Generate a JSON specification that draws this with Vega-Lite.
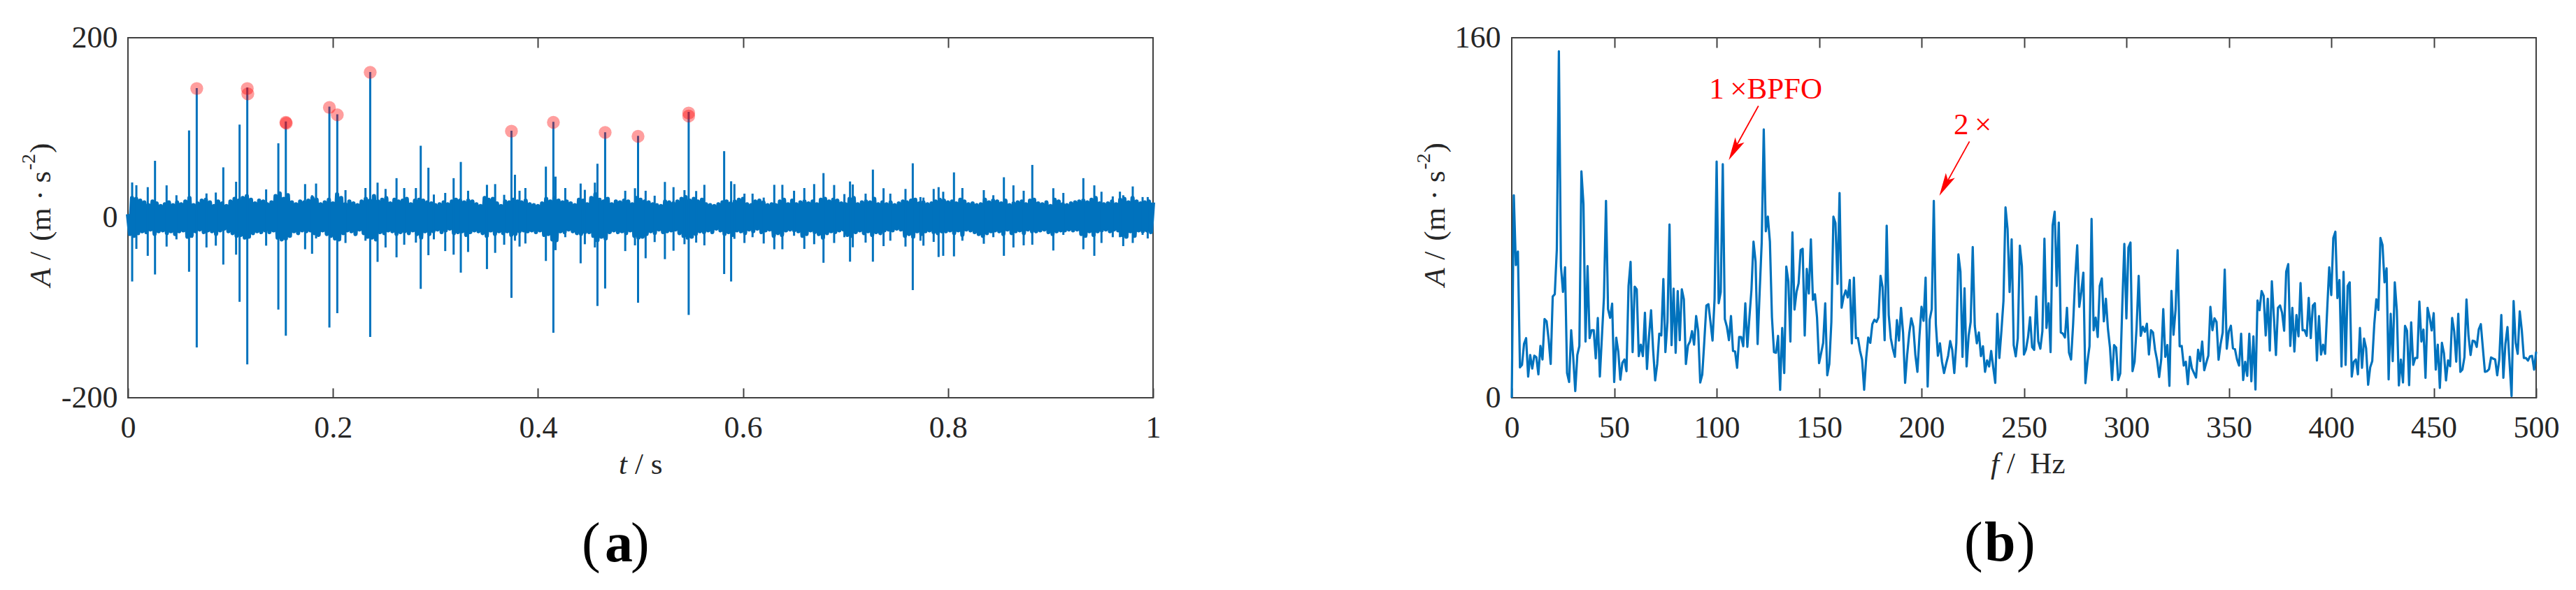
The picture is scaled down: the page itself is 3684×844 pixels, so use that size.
{
  "$schema": "https://vega.github.io/schema/vega-lite/v6.json",
  "background": "white",
  "padding": {"left": 27, "top": 31, "right": 0, "bottom": 0},
  "spacing": 361,
  "datasets": {
    "noise": [
{"t":0.000,"a":4},{"t":0.002,"a":-18},{"t":0.004,"a":22},{"t":0.006,"a":-20},{"t":0.008,"a":21},{"t":0.010,"a":-17},{"t":0.012,"a":19},{"t":0.014,"a":-15},{"t":0.016,"a":17},{"t":0.018,"a":-16},{"t":0.020,"a":14},{"t":0.022,"a":-13},{"t":0.024,"a":18},{"t":0.026,"a":-18},{"t":0.028,"a":16},{"t":0.030,"a":-15},{"t":0.032,"a":13},{"t":0.034,"a":-14},{"t":0.036,"a":15},{"t":0.038,"a":-17},{"t":0.040,"a":17},{"t":0.042,"a":-15},{"t":0.044,"a":14},{"t":0.046,"a":-18},{"t":0.048,"a":17},{"t":0.050,"a":-15},{"t":0.052,"a":15},{"t":0.054,"a":-14},{"t":0.056,"a":18},{"t":0.058,"a":-21},{"t":0.060,"a":22},{"t":0.062,"a":-20},{"t":0.064,"a":14},{"t":0.066,"a":-15},{"t":0.068,"a":16},{"t":0.070,"a":-13},{"t":0.072,"a":19},{"t":0.074,"a":-16},{"t":0.076,"a":20},{"t":0.078,"a":-14},{"t":0.080,"a":17},{"t":0.082,"a":-15},{"t":0.084,"a":13},{"t":0.086,"a":-18},{"t":0.088,"a":18},{"t":0.090,"a":-14},{"t":0.092,"a":16},{"t":0.094,"a":-12},{"t":0.096,"a":13},{"t":0.098,"a":-15},{"t":0.100,"a":18},{"t":0.102,"a":-17},{"t":0.104,"a":21},{"t":0.106,"a":-20},{"t":0.108,"a":19},{"t":0.110,"a":-19},{"t":0.112,"a":22},{"t":0.114,"a":-22},{"t":0.116,"a":24},{"t":0.118,"a":-21},{"t":0.120,"a":20},{"t":0.122,"a":-17},{"t":0.124,"a":16},{"t":0.126,"a":-15},{"t":0.128,"a":19},{"t":0.130,"a":-16},{"t":0.132,"a":18},{"t":0.134,"a":-14},{"t":0.136,"a":15},{"t":0.138,"a":-16},{"t":0.140,"a":17},{"t":0.142,"a":-14},{"t":0.144,"a":24},{"t":0.146,"a":-22},{"t":0.148,"a":27},{"t":0.150,"a":-24},{"t":0.152,"a":21},{"t":0.154,"a":-23},{"t":0.156,"a":25},{"t":0.158,"a":-20},{"t":0.160,"a":17},{"t":0.162,"a":-15},{"t":0.164,"a":15},{"t":0.166,"a":-17},{"t":0.168,"a":18},{"t":0.170,"a":-14},{"t":0.172,"a":17},{"t":0.174,"a":-15},{"t":0.176,"a":19},{"t":0.178,"a":-14},{"t":0.180,"a":22},{"t":0.182,"a":-17},{"t":0.184,"a":20},{"t":0.186,"a":-19},{"t":0.188,"a":15},{"t":0.190,"a":-14},{"t":0.192,"a":17},{"t":0.194,"a":-18},{"t":0.196,"a":20},{"t":0.198,"a":-20},{"t":0.200,"a":16},{"t":0.202,"a":-23},{"t":0.204,"a":26},{"t":0.206,"a":-24},{"t":0.208,"a":22},{"t":0.210,"a":-17},{"t":0.212,"a":15},{"t":0.214,"a":-14},{"t":0.216,"a":18},{"t":0.218,"a":-15},{"t":0.220,"a":16},{"t":0.222,"a":-18},{"t":0.224,"a":14},{"t":0.226,"a":-13},{"t":0.228,"a":18},{"t":0.230,"a":-17},{"t":0.232,"a":21},{"t":0.234,"a":-21},{"t":0.236,"a":19},{"t":0.238,"a":-22},{"t":0.240,"a":24},{"t":0.242,"a":-24},{"t":0.244,"a":18},{"t":0.246,"a":-16},{"t":0.248,"a":20},{"t":0.250,"a":-17},{"t":0.252,"a":22},{"t":0.254,"a":-14},{"t":0.256,"a":16},{"t":0.258,"a":-15},{"t":0.260,"a":20},{"t":0.262,"a":-18},{"t":0.264,"a":18},{"t":0.266,"a":-16},{"t":0.268,"a":19},{"t":0.270,"a":-15},{"t":0.272,"a":21},{"t":0.274,"a":-17},{"t":0.276,"a":15},{"t":0.278,"a":-14},{"t":0.280,"a":19},{"t":0.282,"a":-18},{"t":0.284,"a":20},{"t":0.286,"a":-22},{"t":0.288,"a":19},{"t":0.290,"a":-15},{"t":0.292,"a":17},{"t":0.294,"a":-18},{"t":0.296,"a":16},{"t":0.298,"a":-15},{"t":0.300,"a":14},{"t":0.302,"a":-13},{"t":0.304,"a":15},{"t":0.306,"a":-16},{"t":0.308,"a":17},{"t":0.310,"a":-14},{"t":0.312,"a":15},{"t":0.314,"a":-12},{"t":0.316,"a":18},{"t":0.318,"a":-17},{"t":0.320,"a":20},{"t":0.322,"a":-16},{"t":0.324,"a":19},{"t":0.326,"a":-15},{"t":0.328,"a":17},{"t":0.330,"a":-19},{"t":0.332,"a":19},{"t":0.334,"a":-16},{"t":0.336,"a":18},{"t":0.338,"a":-14},{"t":0.340,"a":15},{"t":0.342,"a":-15},{"t":0.344,"a":13},{"t":0.346,"a":-17},{"t":0.348,"a":22},{"t":0.350,"a":-20},{"t":0.352,"a":20},{"t":0.354,"a":-14},{"t":0.356,"a":21},{"t":0.358,"a":-18},{"t":0.360,"a":16},{"t":0.362,"a":-15},{"t":0.364,"a":13},{"t":0.366,"a":-17},{"t":0.368,"a":18},{"t":0.370,"a":-15},{"t":0.372,"a":17},{"t":0.374,"a":-19},{"t":0.376,"a":20},{"t":0.378,"a":-18},{"t":0.380,"a":18},{"t":0.382,"a":-15},{"t":0.384,"a":17},{"t":0.386,"a":-14},{"t":0.388,"a":19},{"t":0.390,"a":-15},{"t":0.392,"a":15},{"t":0.394,"a":-14},{"t":0.396,"a":14},{"t":0.398,"a":-16},{"t":0.400,"a":13},{"t":0.402,"a":-14},{"t":0.404,"a":16},{"t":0.406,"a":-19},{"t":0.408,"a":21},{"t":0.410,"a":-18},{"t":0.412,"a":18},{"t":0.414,"a":-24},{"t":0.416,"a":22},{"t":0.418,"a":-25},{"t":0.420,"a":19},{"t":0.422,"a":-15},{"t":0.424,"a":17},{"t":0.426,"a":-16},{"t":0.428,"a":18},{"t":0.430,"a":-13},{"t":0.432,"a":16},{"t":0.434,"a":-15},{"t":0.436,"a":14},{"t":0.438,"a":-17},{"t":0.440,"a":20},{"t":0.442,"a":-18},{"t":0.444,"a":19},{"t":0.446,"a":-16},{"t":0.448,"a":15},{"t":0.450,"a":-16},{"t":0.452,"a":22},{"t":0.454,"a":-20},{"t":0.456,"a":26},{"t":0.458,"a":-25},{"t":0.460,"a":20},{"t":0.462,"a":-21},{"t":0.464,"a":18},{"t":0.466,"a":-23},{"t":0.468,"a":21},{"t":0.470,"a":-16},{"t":0.472,"a":15},{"t":0.474,"a":-14},{"t":0.476,"a":18},{"t":0.478,"a":-16},{"t":0.480,"a":17},{"t":0.482,"a":-15},{"t":0.484,"a":19},{"t":0.486,"a":-17},{"t":0.488,"a":18},{"t":0.490,"a":-14},{"t":0.492,"a":15},{"t":0.494,"a":-20},{"t":0.496,"a":22},{"t":0.498,"a":-22},{"t":0.500,"a":20},{"t":0.502,"a":-21},{"t":0.504,"a":18},{"t":0.506,"a":-18},{"t":0.508,"a":17},{"t":0.510,"a":-15},{"t":0.512,"a":15},{"t":0.514,"a":-17},{"t":0.516,"a":14},{"t":0.518,"a":-13},{"t":0.520,"a":13},{"t":0.522,"a":-16},{"t":0.524,"a":18},{"t":0.526,"a":-15},{"t":0.528,"a":17},{"t":0.530,"a":-14},{"t":0.532,"a":16},{"t":0.534,"a":-13},{"t":0.536,"a":18},{"t":0.538,"a":-17},{"t":0.540,"a":21},{"t":0.542,"a":-20},{"t":0.544,"a":23},{"t":0.546,"a":-22},{"t":0.548,"a":19},{"t":0.550,"a":-21},{"t":0.552,"a":21},{"t":0.554,"a":-18},{"t":0.556,"a":18},{"t":0.558,"a":-15},{"t":0.560,"a":20},{"t":0.562,"a":-16},{"t":0.564,"a":15},{"t":0.566,"a":-14},{"t":0.568,"a":14},{"t":0.570,"a":-16},{"t":0.572,"a":13},{"t":0.574,"a":-12},{"t":0.576,"a":15},{"t":0.578,"a":-14},{"t":0.580,"a":17},{"t":0.582,"a":-18},{"t":0.584,"a":18},{"t":0.586,"a":-16},{"t":0.588,"a":16},{"t":0.590,"a":-19},{"t":0.592,"a":18},{"t":0.594,"a":-14},{"t":0.596,"a":20},{"t":0.598,"a":-15},{"t":0.600,"a":21},{"t":0.602,"a":-17},{"t":0.604,"a":15},{"t":0.606,"a":-13},{"t":0.608,"a":14},{"t":0.610,"a":-15},{"t":0.612,"a":18},{"t":0.614,"a":-12},{"t":0.616,"a":19},{"t":0.618,"a":-16},{"t":0.620,"a":17},{"t":0.622,"a":-14},{"t":0.624,"a":14},{"t":0.626,"a":-13},{"t":0.628,"a":15},{"t":0.630,"a":-20},{"t":0.632,"a":14},{"t":0.634,"a":-17},{"t":0.636,"a":18},{"t":0.638,"a":-19},{"t":0.640,"a":20},{"t":0.642,"a":-14},{"t":0.644,"a":15},{"t":0.646,"a":-13},{"t":0.648,"a":19},{"t":0.650,"a":-14},{"t":0.652,"a":15},{"t":0.654,"a":-15},{"t":0.656,"a":17},{"t":0.658,"a":-20},{"t":0.660,"a":18},{"t":0.662,"a":-18},{"t":0.664,"a":16},{"t":0.666,"a":-14},{"t":0.668,"a":18},{"t":0.670,"a":-16},{"t":0.672,"a":15},{"t":0.674,"a":-18},{"t":0.676,"a":20},{"t":0.678,"a":-22},{"t":0.680,"a":21},{"t":0.682,"a":-17},{"t":0.684,"a":18},{"t":0.686,"a":-15},{"t":0.688,"a":20},{"t":0.690,"a":-16},{"t":0.692,"a":19},{"t":0.694,"a":-14},{"t":0.696,"a":16},{"t":0.698,"a":-13},{"t":0.700,"a":15},{"t":0.702,"a":-19},{"t":0.704,"a":21},{"t":0.706,"a":-20},{"t":0.708,"a":22},{"t":0.710,"a":-16},{"t":0.712,"a":15},{"t":0.714,"a":-14},{"t":0.716,"a":17},{"t":0.718,"a":-17},{"t":0.720,"a":18},{"t":0.722,"a":-15},{"t":0.724,"a":17},{"t":0.726,"a":-19},{"t":0.728,"a":21},{"t":0.730,"a":-16},{"t":0.732,"a":15},{"t":0.734,"a":-17},{"t":0.736,"a":17},{"t":0.738,"a":-14},{"t":0.740,"a":15},{"t":0.742,"a":-13},{"t":0.744,"a":17},{"t":0.746,"a":-14},{"t":0.748,"a":14},{"t":0.750,"a":-12},{"t":0.752,"a":16},{"t":0.754,"a":-13},{"t":0.756,"a":18},{"t":0.758,"a":-20},{"t":0.760,"a":17},{"t":0.762,"a":-18},{"t":0.764,"a":19},{"t":0.766,"a":-21},{"t":0.768,"a":20},{"t":0.770,"a":-15},{"t":0.772,"a":16},{"t":0.774,"a":-18},{"t":0.776,"a":17},{"t":0.778,"a":-15},{"t":0.780,"a":15},{"t":0.782,"a":-14},{"t":0.784,"a":16},{"t":0.786,"a":-16},{"t":0.788,"a":18},{"t":0.790,"a":-17},{"t":0.792,"a":20},{"t":0.794,"a":-15},{"t":0.796,"a":19},{"t":0.798,"a":-15},{"t":0.800,"a":17},{"t":0.802,"a":-14},{"t":0.804,"a":18},{"t":0.806,"a":-17},{"t":0.808,"a":16},{"t":0.810,"a":-14},{"t":0.812,"a":20},{"t":0.814,"a":-19},{"t":0.816,"a":18},{"t":0.818,"a":-13},{"t":0.820,"a":15},{"t":0.822,"a":-14},{"t":0.824,"a":16},{"t":0.826,"a":-16},{"t":0.828,"a":14},{"t":0.830,"a":-18},{"t":0.832,"a":15},{"t":0.834,"a":-20},{"t":0.836,"a":20},{"t":0.838,"a":-17},{"t":0.840,"a":17},{"t":0.842,"a":-15},{"t":0.844,"a":19},{"t":0.846,"a":-14},{"t":0.848,"a":18},{"t":0.850,"a":-15},{"t":0.852,"a":16},{"t":0.854,"a":-18},{"t":0.856,"a":19},{"t":0.858,"a":-13},{"t":0.860,"a":14},{"t":0.862,"a":-17},{"t":0.864,"a":16},{"t":0.866,"a":-15},{"t":0.868,"a":17},{"t":0.870,"a":-14},{"t":0.872,"a":18},{"t":0.874,"a":-17},{"t":0.876,"a":15},{"t":0.878,"a":-13},{"t":0.880,"a":19},{"t":0.882,"a":-15},{"t":0.884,"a":20},{"t":0.886,"a":-15},{"t":0.888,"a":16},{"t":0.890,"a":-14},{"t":0.892,"a":15},{"t":0.894,"a":-13},{"t":0.896,"a":17},{"t":0.898,"a":-16},{"t":0.900,"a":13},{"t":0.902,"a":-18},{"t":0.904,"a":20},{"t":0.906,"a":-15},{"t":0.908,"a":18},{"t":0.910,"a":-14},{"t":0.912,"a":15},{"t":0.914,"a":-14},{"t":0.916,"a":14},{"t":0.918,"a":-13},{"t":0.920,"a":16},{"t":0.922,"a":-14},{"t":0.924,"a":17},{"t":0.926,"a":-13},{"t":0.928,"a":18},{"t":0.930,"a":-18},{"t":0.932,"a":19},{"t":0.934,"a":-20},{"t":0.936,"a":17},{"t":0.938,"a":-15},{"t":0.940,"a":20},{"t":0.942,"a":-19},{"t":0.944,"a":22},{"t":0.946,"a":-15},{"t":0.948,"a":16},{"t":0.950,"a":-14},{"t":0.952,"a":15},{"t":0.954,"a":-13},{"t":0.956,"a":16},{"t":0.958,"a":-15},{"t":0.960,"a":18},{"t":0.962,"a":-13},{"t":0.964,"a":15},{"t":0.966,"a":-14},{"t":0.968,"a":20},{"t":0.970,"a":-19},{"t":0.972,"a":21},{"t":0.974,"a":-21},{"t":0.976,"a":17},{"t":0.978,"a":-15},{"t":0.980,"a":22},{"t":0.982,"a":-20},{"t":0.984,"a":18},{"t":0.986,"a":-14},{"t":0.988,"a":16},{"t":0.990,"a":-15},{"t":0.992,"a":17},{"t":0.994,"a":-14},{"t":0.996,"a":18},{"t":0.998,"a":-16},{"t":1.000,"a":17}
    ],
    "spikes": [
{"t":0.0041,"a":39.2,"lo":-70.8},{"t":0.0082,"a":36.1,"lo":-34.6},{"t":0.0193,"a":34,"lo":-42.3},{"t":0.0264,"a":63.3,"lo":-63},{"t":0.0377,"a":36,"lo":-32},{"t":0.0473,"a":25,"lo":-24},{"t":0.0596,"a":97,"lo":-60},{"t":0.0671,"a":144,"lo":-144},{"t":0.0766,"a":27,"lo":-33},{"t":0.0857,"a":28,"lo":-31},{"t":0.093,"a":56,"lo":-52},{"t":0.1055,"a":40,"lo":-41},{"t":0.1089,"a":103.5,"lo":-93.4},{"t":0.1164,"a":144.6,"lo":-163},{"t":0.1348,"a":31.5,"lo":-31},{"t":0.1467,"a":82.7,"lo":-102},{"t":0.154,"a":107,"lo":-131},{"t":0.1728,"a":37.4,"lo":-35},{"t":0.1796,"a":25,"lo":-40},{"t":0.1835,"a":38,"lo":-23},{"t":0.1965,"a":123.4,"lo":-122},{"t":0.2042,"a":115,"lo":-106},{"t":0.2122,"a":30.7,"lo":-28},{"t":0.2317,"a":33,"lo":-25.5},{"t":0.2363,"a":162,"lo":-132.5},{"t":0.2435,"a":39,"lo":-49},
{"t":0.2513,"a":32,"lo":-33},{"t":0.262,"a":44,"lo":-44},{"t":0.2695,"a":33,"lo":-30},{"t":0.2809,"a":33,"lo":-27.6},{"t":0.2856,"a":80,"lo":-79},{"t":0.2931,"a":55.6,"lo":-41.6},{"t":0.2984,"a":25.8,"lo":-24},{"t":0.3095,"a":27.6,"lo":-37},{"t":0.3177,"a":44,"lo":-41},{"t":0.3247,"a":62,"lo":-61},{"t":0.3318,"a":30,"lo":-38},{"t":0.3502,"a":36.6,"lo":-57},{"t":0.3582,"a":37.4,"lo":-39},{"t":0.367,"a":25.5,"lo":-30},{"t":0.3741,"a":96.7,"lo":-89},{"t":0.3775,"a":47.8,"lo":-25.5},{"t":0.382,"a":30,"lo":-32},{"t":0.3877,"a":33,"lo":-28.6},{"t":0.4077,"a":56.8,"lo":-48},{"t":0.415,"a":106.6,"lo":-127.8},{"t":0.4171,"a":45.7,"lo":-36},{"t":0.4266,"a":33,"lo":-21.6},{"t":0.4416,"a":38,"lo":-50.6},{"t":0.4457,"a":31,"lo":-29.4},{"t":0.4555,"a":39,"lo":-33},{"t":0.458,"a":60,"lo":-98},{"t":0.4655,"a":95,"lo":-78.6},{"t":0.4851,"a":30,"lo":-37},{"t":0.4946,"a":32.8,"lo":-30.7},{"t":0.4976,"a":91,"lo":-94.4},
{"t":0.505,"a":30,"lo":-45},{"t":0.5138,"a":24.5,"lo":-27},{"t":0.5238,"a":39.8,"lo":-46},{"t":0.5322,"a":34,"lo":-36.6},{"t":0.5429,"a":30.7,"lo":-29.4},{"t":0.547,"a":117.7,"lo":-108},{"t":0.5543,"a":29.7,"lo":-27.6},{"t":0.5623,"a":36.6,"lo":-30.7},{"t":0.5816,"a":74,"lo":-62.5},{"t":0.5884,"a":40.5,"lo":-70.8},{"t":0.5916,"a":37.4,"lo":-23.4},{"t":0.6014,"a":26.8,"lo":-28},{"t":0.6093,"a":26.8,"lo":-21.6},{"t":0.6202,"a":22.4,"lo":-28.6},{"t":0.6305,"a":36.6,"lo":-35},{"t":0.6384,"a":36.6,"lo":-35},{"t":0.6498,"a":30,"lo":-20},{"t":0.6598,"a":33,"lo":-34.6},{"t":0.6694,"a":37.4,"lo":-29.4},{"t":0.6785,"a":49.6,"lo":-50},{"t":0.6889,"a":36.4,"lo":-28},{"t":0.6989,"a":26.3,"lo":-21.6},{"t":0.7044,"a":40.3,"lo":-48.8},{"t":0.7071,"a":37,"lo":-32.8},{"t":0.7196,"a":26.8,"lo":-27.6},{"t":0.7267,"a":53.5,"lo":-48.8},{"t":0.7371,"a":32.8,"lo":-31.5},{"t":0.7437,"a":26.8,"lo":-25.5},
{"t":0.7585,"a":32,"lo":-32},{"t":0.7656,"a":60.5,"lo":-80.4},{"t":0.7731,"a":23,"lo":-25.5},{"t":0.776,"a":22.4,"lo":-31},{"t":0.786,"a":32,"lo":-26.8},{"t":0.7908,"a":34,"lo":-43.6},{"t":0.7953,"a":28.9,"lo":-42.3},{"t":0.8058,"a":50.4,"lo":-42.9},{"t":0.814,"a":33,"lo":-25.5},{"t":0.8349,"a":30.7,"lo":-28.9},{"t":0.8442,"a":25,"lo":-21.6},{"t":0.8545,"a":45,"lo":-42.3},{"t":0.8638,"a":36,"lo":-33},{"t":0.8738,"a":30,"lo":-30.7},{"t":0.8822,"a":58.7,"lo":-30},{"t":0.9027,"a":32.8,"lo":-36.4},{"t":0.9125,"a":27.6,"lo":-19},{"t":0.932,"a":44,"lo":-35},{"t":0.9427,"a":36,"lo":-42.3},{"t":0.9497,"a":28.9,"lo":-28},{"t":0.9607,"a":23.7,"lo":-21.6},{"t":0.9677,"a":29,"lo":-21.6},{"t":0.9709,"a":25,"lo":-31.5},{"t":0.9802,"a":34.8,"lo":-28},{"t":0.9898,"a":23,"lo":-19},{"t":0.9948,"a":23,"lo":-23}
    ],
    "picked": [
{"t":0.0671,"a":143.6},{"t":0.1164,"a":143.6},{"t":0.1169,"a":137.7},{"t":0.154,"a":106},{"t":0.1544,"a":105},{"t":0.1965,"a":122.6},{"t":0.2042,"a":114.3},{"t":0.2363,"a":161.5},{"t":0.3741,"a":96.2},{"t":0.415,"a":106},{"t":0.4655,"a":94.7},{"t":0.4976,"a":90.5},{"t":0.547,"a":116.4},{"t":0.547,"a":113}
    ],
    "spectrum": [
{"t":0,"a":0},{"t":1,"a":90},{"t":2,"a":59},{"t":3,"a":65},{"t":4,"a":13.5},{"t":5,"a":14.6},{"t":6,"a":24},{"t":7,"a":26.5},{"t":8,"a":9.4},{"t":9,"a":19},{"t":10,"a":13},{"t":11,"a":18.7},{"t":12,"a":18},{"t":13,"a":10.4},{"t":14,"a":23},{"t":15,"a":17},{"t":16,"a":35},{"t":17,"a":34},{"t":18,"a":26},{"t":19,"a":15},{"t":20,"a":45},{"t":21,"a":46},{"t":22,"a":66},{"t":23,"a":154},{"t":24,"a":58.5},{"t":25,"a":47},{"t":26,"a":58},{"t":27,"a":11},{"t":28,"a":7},{"t":29,"a":30},{"t":30,"a":18},{"t":31,"a":3},{"t":32,"a":19},{"t":33,"a":23},{"t":34,"a":100.6},{"t":35,"a":86},{"t":36,"a":25},{"t":37,"a":58.5},{"t":38,"a":26.5},{"t":39,"a":30},{"t":40,"a":30},{"t":41,"a":17.5},{"t":42,"a":35.5},{"t":43,"a":9.4},{"t":44,"a":27},{"t":45,"a":44.6},{"t":46,"a":87.5},{"t":47,"a":39.4},{"t":48,"a":35.5},{"t":49,"a":41.8},{"t":50,"a":7},{"t":51,"a":26.7},{"t":52,"a":20.5},{"t":53,"a":8},{"t":54,"a":15.6},{"t":55,"a":17},{"t":56,"a":11.8},{"t":57,"a":49.7},{"t":58,"a":60.4},{"t":59,"a":20.3},{"t":60,"a":49.4},{"t":61,"a":48.2},{"t":62,"a":18.5},{"t":63,"a":23.6},{"t":64,"a":18.5},{"t":65,"a":37.8},{"t":66,"a":12.8},{"t":67,"a":27.5},{"t":68,"a":38.9},{"t":69,"a":21.3},{"t":70,"a":7.7},{"t":71,"a":15},{"t":72,"a":28.5},{"t":73,"a":27.7},{"t":74,"a":52.8},{"t":75,"a":20.3},{"t":76,"a":33.7},{"t":77,"a":77},{"t":78,"a":23.4},{"t":79,"a":48.5},{"t":80,"a":20},{"t":81,"a":47.4},{"t":82,"a":25.6},{"t":83,"a":48.2},{"t":84,"a":43.8},{"t":85,"a":15},{"t":86,"a":23.2},{"t":87,"a":25},{"t":88,"a":29.6},{"t":89,"a":23.6},{"t":90,"a":36.3},{"t":91,"a":29.6},{"t":92,"a":6.8},{"t":93,"a":10.4},{"t":94,"a":25.4},{"t":95,"a":41},{"t":96,"a":41.6},{"t":97,"a":33.7},{"t":98,"a":25.4},{"t":99,"a":44},{"t":100,"a":105},{"t":101,"a":42},{"t":102,"a":47},{"t":103,"a":103.8},{"t":104,"a":35},{"t":105,"a":31.6},{"t":106,"a":25.6},{"t":107,"a":36.3},{"t":108,"a":20.8},{"t":109,"a":20.6},{"t":110,"a":13.3},{"t":111,"a":27},{"t":112,"a":27},{"t":113,"a":22.9},{"t":114,"a":42},{"t":115,"a":22.6},{"t":116,"a":35.8},{"t":117,"a":48},{"t":118,"a":69.4},{"t":119,"a":60.6},{"t":120,"a":23.9},{"t":121,"a":47},{"t":122,"a":69},{"t":123,"a":119.3},{"t":124,"a":74},{"t":125,"a":80.5},{"t":126,"a":69.4},{"t":127,"a":35.8},{"t":128,"a":20.3},{"t":129,"a":20},{"t":130,"a":27.5},{"t":131,"a":3.5},{"t":132,"a":31},{"t":133,"a":11},{"t":134,"a":58.3},{"t":135,"a":51.8},{"t":136,"a":25},{"t":137,"a":73.5},{"t":138,"a":39.2},{"t":139,"a":47},{"t":140,"a":50.8},{"t":141,"a":65.6},{"t":142,"a":66.2},{"t":143,"a":27.7},{"t":144,"a":57.3},{"t":145,"a":46.3},{"t":146,"a":70.4},{"t":147,"a":43.5},{"t":148,"a":46},{"t":149,"a":35.8},{"t":150,"a":15.4},{"t":151,"a":19.8},{"t":152,"a":24.4},{"t":153,"a":42},{"t":154,"a":10},{"t":155,"a":15},{"t":156,"a":33.7},{"t":157,"a":80.5},{"t":158,"a":77.7},{"t":159,"a":50.6},{"t":160,"a":91},{"t":161,"a":40},{"t":162,"a":45},{"t":163,"a":47.7},{"t":164,"a":44.6},{"t":165,"a":52.3},{"t":166,"a":24.2},{"t":167,"a":53.4},{"t":168,"a":26.5},{"t":169,"a":26.5},{"t":170,"a":20.8},{"t":171,"a":17},{"t":172,"a":3.5},{"t":173,"a":17.7},{"t":174,"a":26.8},{"t":175,"a":24.4},{"t":176,"a":32.7},{"t":177,"a":34.7},{"t":178,"a":33.7},{"t":179,"a":35.8},{"t":180,"a":54.2},{"t":181,"a":49.2},{"t":182,"a":25.6},{"t":183,"a":76.5},{"t":184,"a":36.8},{"t":185,"a":26.5},{"t":186,"a":21.8},{"t":187,"a":18.2},{"t":188,"a":34.5},{"t":189,"a":25.4},{"t":190,"a":40},{"t":191,"a":29},{"t":192,"a":6.6},{"t":193,"a":19},{"t":194,"a":28.5},{"t":195,"a":35.3},{"t":196,"a":31.6},{"t":197,"a":19},{"t":198,"a":11.5},{"t":199,"a":27.5},{"t":200,"a":40.4},{"t":201,"a":34.2},{"t":202,"a":53.4},{"t":203,"a":5},{"t":204,"a":34.7},{"t":205,"a":39.4},{"t":206,"a":87.5},{"t":207,"a":32.7},{"t":208,"a":18.7},{"t":209,"a":24.2},{"t":210,"a":16},{"t":211,"a":11},{"t":212,"a":15},{"t":213,"a":18.7},{"t":214,"a":25.2},{"t":215,"a":21.3},{"t":216,"a":11},{"t":217,"a":24.4},{"t":218,"a":63.7},{"t":219,"a":56},{"t":220,"a":18.2},{"t":221,"a":48.7},{"t":222,"a":13.9},{"t":223,"a":27.5},{"t":224,"a":33.7},{"t":225,"a":67},{"t":226,"a":32},{"t":227,"a":24.2},{"t":228,"a":29},{"t":229,"a":18.5},{"t":230,"a":22.9},{"t":231,"a":11.5},{"t":232,"a":16.6},{"t":233,"a":13.9},{"t":234,"a":20.8},{"t":235,"a":13.5},{"t":236,"a":6.6},{"t":237,"a":37.3},{"t":238,"a":17.7},{"t":239,"a":29.6},{"t":240,"a":43},{"t":241,"a":84.6},{"t":242,"a":75},{"t":243,"a":47},{"t":244,"a":70.4},{"t":245,"a":23.4},{"t":246,"a":18.4},{"t":247,"a":26.5},{"t":248,"a":67.6},{"t":249,"a":58.5},{"t":250,"a":19.2},{"t":251,"a":21.5},{"t":252,"a":27},{"t":253,"a":35.8},{"t":254,"a":22.5},{"t":255,"a":21.3},{"t":256,"a":45},{"t":257,"a":25},{"t":258,"a":21.8},{"t":259,"a":29.6},{"t":260,"a":70.7},{"t":261,"a":31},{"t":262,"a":42},{"t":263,"a":20.3},{"t":264,"a":76.6},{"t":265,"a":82.7},{"t":266,"a":49.7},{"t":267,"a":77.9},{"t":268,"a":29},{"t":269,"a":28.5},{"t":270,"a":26.8},{"t":271,"a":40},{"t":272,"a":20},{"t":273,"a":17},{"t":274,"a":32.7},{"t":275,"a":53},{"t":276,"a":67.8},{"t":277,"a":40.4},{"t":278,"a":47},{"t":279,"a":55.6},{"t":280,"a":6.5},{"t":281,"a":16},{"t":282,"a":22.9},{"t":283,"a":79.5},{"t":284,"a":30},{"t":285,"a":35.6},{"t":286,"a":27},{"t":287,"a":49.7},{"t":288,"a":53},{"t":289,"a":34},{"t":290,"a":44},{"t":291,"a":30.6},{"t":292,"a":22.3},{"t":293,"a":7.9},{"t":294,"a":23.4},{"t":295,"a":22.3},{"t":296,"a":7.9},{"t":297,"a":10.8},{"t":298,"a":41},{"t":299,"a":68.4},{"t":300,"a":35.3},{"t":301,"a":66.8},{"t":302,"a":69},{"t":303,"a":11.8},{"t":304,"a":16},{"t":305,"a":31.6},{"t":306,"a":54.2},{"t":307,"a":27.5},{"t":308,"a":31.6},{"t":309,"a":29.3},{"t":310,"a":32.9},{"t":311,"a":19.2},{"t":312,"a":30},{"t":313,"a":29},{"t":314,"a":21.3},{"t":315,"a":16.6},{"t":316,"a":9.2},{"t":317,"a":17},{"t":318,"a":39.4},{"t":319,"a":18.2},{"t":320,"a":23.4},{"t":321,"a":5.3},{"t":322,"a":47.5},{"t":323,"a":28},{"t":324,"a":39},{"t":325,"a":65.6},{"t":326,"a":22.9},{"t":327,"a":23},{"t":328,"a":14.3},{"t":329,"a":16},{"t":330,"a":6},{"t":331,"a":18.2},{"t":332,"a":13},{"t":333,"a":11},{"t":334,"a":9},{"t":335,"a":21.3},{"t":336,"a":16.3},{"t":337,"a":25},{"t":338,"a":12.2},{"t":339,"a":15.6},{"t":340,"a":18.7},{"t":341,"a":40.4},{"t":342,"a":30},{"t":343,"a":35.3},{"t":344,"a":33.7},{"t":345,"a":16.9},{"t":346,"a":23.9},{"t":347,"a":29},{"t":348,"a":57},{"t":349,"a":21.8},{"t":350,"a":29.6},{"t":351,"a":32},{"t":352,"a":22},{"t":353,"a":21.6},{"t":354,"a":17},{"t":355,"a":14.3},{"t":356,"a":28.5},{"t":357,"a":7.9},{"t":358,"a":16},{"t":359,"a":9.7},{"t":360,"a":28.5},{"t":361,"a":7.3},{"t":362,"a":27.3},{"t":363,"a":3.7},{"t":364,"a":43.2},{"t":365,"a":38.9},{"t":366,"a":47.4},{"t":367,"a":45.3},{"t":368,"a":27.7},{"t":369,"a":44},{"t":370,"a":21},{"t":371,"a":51.8},{"t":372,"a":35.8},{"t":373,"a":19},{"t":374,"a":40},{"t":375,"a":41},{"t":376,"a":37.8},{"t":377,"a":29.8},{"t":378,"a":56},{"t":379,"a":59.4},{"t":380,"a":23},{"t":381,"a":40},{"t":382,"a":20.5},{"t":383,"a":36.8},{"t":384,"a":27.3},{"t":385,"a":51},{"t":386,"a":30},{"t":387,"a":30},{"t":388,"a":27.5},{"t":389,"a":44.4},{"t":390,"a":26.5},{"t":391,"a":41},{"t":392,"a":42},{"t":393,"a":16.6},{"t":394,"a":36.3},{"t":395,"a":19.2},{"t":396,"a":23.6},{"t":397,"a":19.5},{"t":398,"a":39},{"t":399,"a":58},{"t":400,"a":45.6},{"t":401,"a":71},{"t":402,"a":73.8},{"t":403,"a":44.3},{"t":404,"a":52.3},{"t":405,"a":13.9},{"t":406,"a":56},{"t":407,"a":14.6},{"t":408,"a":49.7},{"t":409,"a":51.3},{"t":410,"a":9.4},{"t":411,"a":16},{"t":412,"a":17},{"t":413,"a":10.4},{"t":414,"a":31},{"t":415,"a":13.3},{"t":416,"a":26.3},{"t":417,"a":22},{"t":418,"a":5.8},{"t":419,"a":13.5},{"t":420,"a":16.3},{"t":421,"a":32.7},{"t":422,"a":43.8},{"t":423,"a":39},{"t":424,"a":71},{"t":425,"a":68},{"t":426,"a":51.3},{"t":427,"a":57.5},{"t":428,"a":8.2},{"t":429,"a":37.3},{"t":430,"a":16.3},{"t":431,"a":51.3},{"t":432,"a":38.9},{"t":433,"a":5.5},{"t":434,"a":17},{"t":435,"a":6.8},{"t":436,"a":32},{"t":437,"a":29.8},{"t":438,"a":5.6},{"t":439,"a":33.5},{"t":440,"a":14.6},{"t":441,"a":17.7},{"t":442,"a":17.7},{"t":443,"a":42.8},{"t":444,"a":25},{"t":445,"a":30.3},{"t":446,"a":8.9},{"t":447,"a":40},{"t":448,"a":35.8},{"t":449,"a":29.9},{"t":450,"a":37.6},{"t":451,"a":12.5},{"t":452,"a":23.6},{"t":453,"a":4.4},{"t":454,"a":24.4},{"t":455,"a":19.8},{"t":456,"a":7.7},{"t":457,"a":16.6},{"t":458,"a":14},{"t":459,"a":35.5},{"t":460,"a":29.6},{"t":461,"a":16},{"t":462,"a":37.3},{"t":463,"a":11.5},{"t":464,"a":12.5},{"t":465,"a":18},{"t":466,"a":43.7},{"t":467,"a":27.5},{"t":468,"a":19},{"t":469,"a":25.4},{"t":470,"a":25.1},{"t":471,"a":22.6},{"t":472,"a":30.4},{"t":473,"a":32.7},{"t":474,"a":22},{"t":475,"a":11.5},{"t":476,"a":11.8},{"t":477,"a":12.7},{"t":478,"a":17.9},{"t":479,"a":17.4},{"t":480,"a":17},{"t":481,"a":10},{"t":482,"a":17},{"t":483,"a":36.8},{"t":484,"a":8.9},{"t":485,"a":24},{"t":486,"a":31.4},{"t":487,"a":16},{"t":488,"a":0.8},{"t":489,"a":43},{"t":490,"a":24.4},{"t":491,"a":19.5},{"t":492,"a":38.4},{"t":493,"a":30},{"t":494,"a":17.7},{"t":495,"a":17.7},{"t":496,"a":16.5},{"t":497,"a":18.4},{"t":498,"a":18.6},{"t":499,"a":12.5},{"t":500,"a":20.5}
    ]
  },
  "hconcat": [
    {
      "width": 1466,
      "height": 515,
      "encoding": {
        "x": {"field": "t", "type": "quantitative", "scale": {"domain": [0, 1], "nice": false, "zero": false}, "axis": null},
        "y": {
          "field": "a",
          "type": "quantitative",
          "scale": {"domain": [-200, 200], "nice": false, "zero": false},
          "axis": {"values": [-200, 0, 200], "title": null, "ticks": false, "tickSize": 0, "labelPadding": 15, "labelExpr": "'' + datum.value"}
        }
      },
      "resolve": {"axis": {"x": "independent"}},
      "layer": [
        {
          "data": {"name": "noise"},
          "mark": {"type": "line", "color": "#0072BD", "strokeWidth": 6, "strokeJoin": "round"},
          "encoding": {
            "x": {"field": "t", "type": "quantitative", "scale": {"domain": [0, 1], "nice": false, "zero": false},
              "axis": {"orient": "bottom", "values": [0, 0.2, 0.4, 0.6, 0.8, 1], "title": null, "format": "~g", "tickSize": -14, "labelPadding": 35}}
          }
        },
        {
          "data": {"name": "spikes"},
          "mark": {"type": "rule", "color": "#0072BD", "strokeWidth": 3},
          "encoding": {
            "x": {"field": "t", "type": "quantitative", "scale": {"domain": [0, 1], "nice": false, "zero": false},
              "axis": {"orient": "top", "values": [0.2, 0.4, 0.6, 0.8], "title": null, "labels": false, "tickSize": -14}},
            "y2": {"field": "lo"}
          }
        },
        {
          "data": {"name": "picked"},
          "mark": {"type": "point", "filled": true, "color": "#FF0000", "opacity": 0.38, "size": 340}
        },
        {
          "data": {"values": [{"t": -0.0759, "a": -76.5, "s": "A"}]},
          "mark": {"type": "text", "angle": 270, "fontStyle": "italic"},
          "encoding": {"text": {"field": "s"}}
        },
        {
          "data": {"values": [{"t": -0.0759, "a": -47, "s": "/"}, {"t": -0.0759, "a": -26, "s": "(m · s"}, {"t": -0.0759, "a": 71.8, "s": ")"}]},
          "mark": {"type": "text", "angle": 270},
          "encoding": {"text": {"field": "s"}}
        },
        {
          "data": {"values": [{"t": -0.0904, "a": 53, "s": "-2"}]},
          "mark": {"type": "text", "angle": 270, "fontSize": 28},
          "encoding": {"text": {"field": "s"}}
        },
        {
          "data": {"values": [{"t": 0.4789, "a": -284.7, "s": "t"}]},
          "mark": {"type": "text", "fontStyle": "italic"},
          "encoding": {"text": {"field": "s"}}
        },
        {
          "data": {"values": [{"t": 0.4945, "a": -284.7, "s": "/ s"}]},
          "mark": {"type": "text"},
          "encoding": {"text": {"field": "s"}}
        },
        {
          "data": {"values": [{"t": 0.4427, "a": -381.7, "s": "("}, {"t": 0.4904, "a": -381.7, "s": ")"}]},
          "mark": {"type": "text", "fontSize": 80, "color": "black"},
          "encoding": {"text": {"field": "s"}}
        },
        {
          "data": {"values": [{"t": 0.4652, "a": -381.7, "s": "a"}]},
          "mark": {"type": "text", "fontSize": 80, "fontWeight": "bold", "color": "black"},
          "encoding": {"text": {"field": "s"}}
        }
      ]
    },
    {
      "width": 1465,
      "height": 515,
      "encoding": {
        "x": {"field": "t", "type": "quantitative", "scale": {"domain": [0, 500], "nice": false, "zero": false}, "axis": null},
        "y": {
          "field": "a",
          "type": "quantitative",
          "scale": {"domain": [0, 160], "nice": false, "zero": false},
          "axis": {"values": [0, 160], "title": null, "ticks": false, "tickSize": 0, "labelPadding": 16}
        }
      },
      "resolve": {"axis": {"x": "independent"}},
      "layer": [
        {
          "data": {"name": "spectrum"},
          "mark": {"type": "line", "color": "#0072BD", "strokeWidth": 3.2, "strokeJoin": "round"},
          "encoding": {
            "x": {"field": "t", "type": "quantitative", "scale": {"domain": [0, 500], "nice": false, "zero": false},
              "axis": {"orient": "bottom", "values": [0, 50, 100, 150, 200, 250, 300, 350, 400, 450, 500], "title": null, "tickSize": -14, "labelPadding": 35}}
          }
        },
        {
          "data": {"values": [{"t": 120.4, "a": 129.7, "t2": 107.5, "lo": 108.5}, {"t": 223.4, "a": 113.9, "t2": 210.5, "lo": 92.7}]},
          "mark": {"type": "rule", "color": "#FF0000", "strokeWidth": 1.8},
          "encoding": {
            "x": {"field": "t", "type": "quantitative", "scale": {"domain": [0, 500], "nice": false, "zero": false},
              "axis": {"orient": "top", "values": [50, 100, 150, 200, 250, 300, 350, 400, 450], "title": null, "labels": false, "tickSize": -14}},
            "x2": {"field": "t2"},
            "y2": {"field": "lo"}
          }
        },
        {
          "data": {"values": [{"t": 108.6, "a": 110.1}, {"t": 211.4, "a": 94.3}]},
          "mark": {"type": "point", "filled": true, "color": "#FF0000", "opacity": 1, "size": 1089, "angle": 208.6, "shape": "M0,-1 L0.45,1 L0,0.55 L-0.45,1 Z"}
        },
        {
          "data": {"values": [{"t": 96.3, "a": 133, "s": "1\u2009×BPFO"}, {"t": 215.7, "a": 117, "s": "2\u2009×"}]},
          "mark": {"type": "text", "color": "#FF0000", "fontSize": 43},
          "encoding": {"text": {"field": "s"}}
        },
        {
          "data": {"values": [{"t": -32.9, "a": 49.5, "s": "A"}]},
          "mark": {"type": "text", "angle": 270, "fontStyle": "italic"},
          "encoding": {"text": {"field": "s"}}
        },
        {
          "data": {"values": [{"t": -32.9, "a": 61.3, "s": "/"}, {"t": -32.9, "a": 69.7, "s": "(m · s"}, {"t": -32.9, "a": 108.9, "s": ")"}]},
          "mark": {"type": "text", "angle": 270},
          "encoding": {"text": {"field": "s"}}
        },
        {
          "data": {"values": [{"t": -39.8, "a": 101.4, "s": "-2"}]},
          "mark": {"type": "text", "angle": 270, "fontSize": 28},
          "encoding": {"text": {"field": "s"}}
        },
        {
          "data": {"values": [{"t": 233.8, "a": -33.7, "s": "f"}]},
          "mark": {"type": "text", "fontStyle": "italic"},
          "encoding": {"text": {"field": "s"}}
        },
        {
          "data": {"values": [{"t": 241.6, "a": -33.7, "s": "/\u00A0\u00A0Hz"}]},
          "mark": {"type": "text"},
          "encoding": {"text": {"field": "s"}}
        },
        {
          "data": {"values": [{"t": 220.8, "a": -72.5, "s": "("}, {"t": 246.4, "a": -72.5, "s": ")"}]},
          "mark": {"type": "text", "fontSize": 80, "color": "black"},
          "encoding": {"text": {"field": "s"}}
        },
        {
          "data": {"values": [{"t": 230.7, "a": -72.5, "s": "b"}]},
          "mark": {"type": "text", "fontSize": 80, "fontWeight": "bold", "color": "black"},
          "encoding": {"text": {"field": "s"}}
        }
      ]
    }
  ],
  "config": {
    "view": {"stroke": "#404040", "strokeWidth": 2},
    "axis": {
      "grid": false,
      "domain": false,
      "labelFont": "Liberation Serif",
      "labelFontSize": 44,
      "labelColor": "#262626",
      "tickColor": "#404040",
      "tickWidth": 2,
      "labelOverlap": false,
      "labelFlush": false,
      "labelBound": false
    },
    "text": {"font": "Liberation Serif", "fontSize": 43, "align": "left", "baseline": "alphabetic", "color": "#262626"}
  }
}
